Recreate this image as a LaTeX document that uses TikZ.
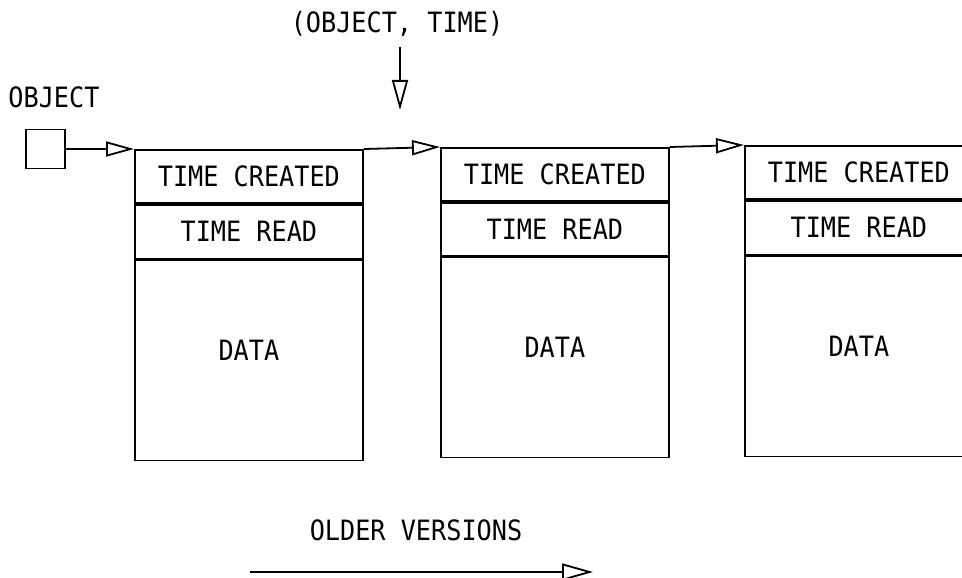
\documentclass[tikz,border=0pt]{standalone}
\usepackage{fontspec}
\newfontfamily\plotfont[FakeStretch=0.9]{DejaVu Sans Mono}
\usetikzlibrary{arrows.meta}
\begin{document}
\begin{tikzpicture}[x=1pt,y=-1pt,
  line width=1.8pt,
  every node/.style={font=\plotfont\fontsize{28}{31}\selectfont},
  cell/.style={draw,rectangle,inner sep=0pt,minimum width=228pt,anchor=north west},
  tc/.style={cell,minimum height=53pt},
  tr/.style={cell,minimum height=54pt},
  dat/.style={cell,minimum height=200pt},
  txt/.style={inner sep=0pt},
  arr/.style={-{Triangle[open,length=28pt,width=15pt]}},
  arrbig/.style={-{Triangle[open,length=31pt,width=17pt]}}
]
\clip (0,0) rectangle (962,578);
\fill[white] (0,0) rectangle (962,578);

% labels
\node[txt] (lbl) at (397,24) {(OBJECT, TIME)};
\node[txt] (objlbl) at (54,97) {OBJECT};
\node[txt] (older) at (416,530) {OLDER VERSIONS};

% object square
\node[draw,rectangle,inner sep=0pt,minimum width=39pt,minimum height=39pt] (obj) at (45.5,149) {};

% version 1
\node[tc] (tc1) at (134,149) {TIME CREATED};
\node[tr] (tr1) at (tc1.south west) {TIME READ};
\node[dat] (d1) at (tr1.south west) {};
\node[txt] at ([yshift=10pt]d1.center) {DATA};

% version 2
\node[tc] (tc2) at (440,147) {TIME CREATED};
\node[tr,minimum height=53pt] (tr2) at (tc2.south west) {TIME READ};
\node[dat] (d2) at (tr2.south west) {};
\node[txt] at ([yshift=10pt]d2.center) {DATA};

% version 3
\node[tc] (tc3) at (744,145) {TIME CREATED};
\node[tr] (tr3) at (tc3.south west) {TIME READ};
\node[dat] (d3) at (tr3.south west) {};
\node[txt] at ([yshift=10pt]d3.center) {DATA};

% links
\draw[arr] (obj.east) -- (tc1.north west);
\draw[arr] (tc1.north east) -- (tc2.north west);
\draw[arr] (tc2.north east) -- (tc3.north west);

% pointer
\coordinate (ptop) at (400,47);
\coordinate (ptip) at (400,110);
\draw[-{Triangle[open,length=30pt,width=16pt]}] (ptop) -- (ptip);

% older versions arrow
\coordinate (otail) at (250,572);
\coordinate (ohead) at (593,572);
\draw[arrbig] (otail) -- (ohead);
\end{tikzpicture}
\end{document}
